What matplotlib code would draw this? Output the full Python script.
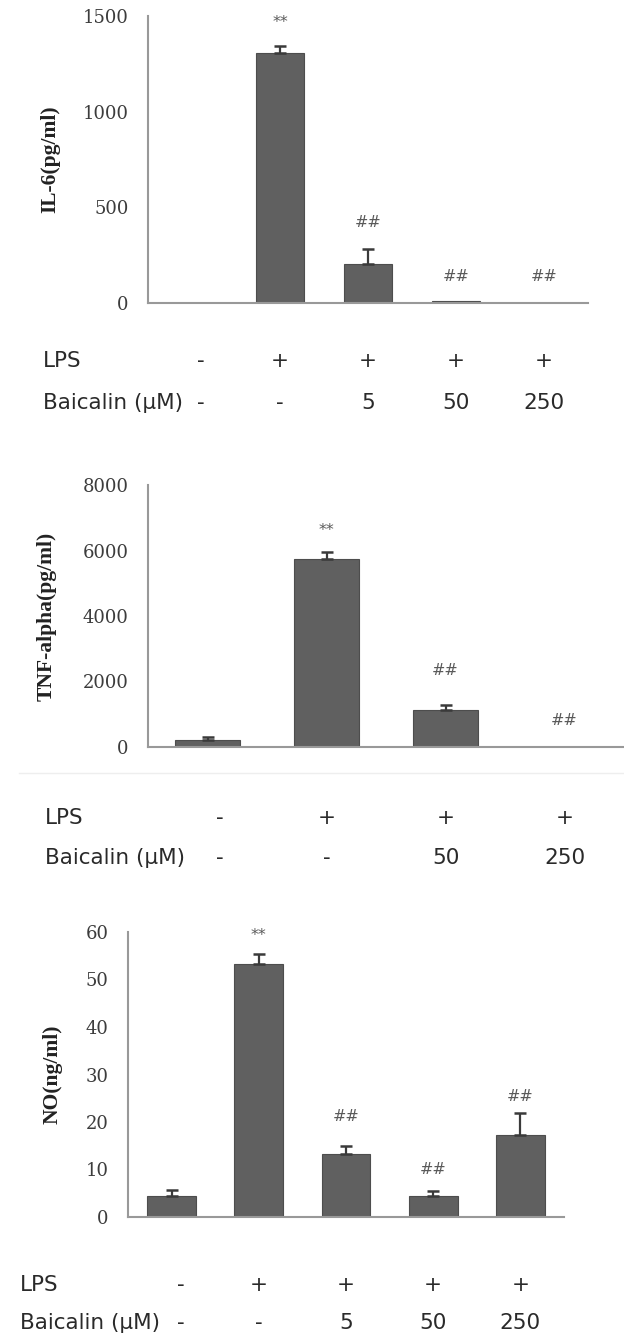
import numpy as np
import matplotlib.pyplot as plt
from matplotlib import transforms

# IL-6 panel
il6_lps = ['-', '+', '+', '+', '+']
il6_baic = ['-', '-', '5', '50', '250']
il6_mean = [0, 1308, 205, 10, 0]
il6_err = [0, 35, 78, 0, 0]
il6_mark = ['', '**', '##', '##', '##']
il6_mark_y = [0, 1465, 420, 140, 140]

# TNF-alpha panel
tnf_lps = ['-', '+', '+', '+']
tnf_baic = ['-', '-', '50', '250']
tnf_mean = [224, 5727, 1121, 0]
tnf_err = [80, 215, 170, 0]
tnf_mark = ['', '**', '##', '##']
tnf_mark_y = [0, 6624, 2344, 815]

# NO panel
no_lps = ['-', '+', '+', '+', '+']
no_baic = ['-', '-', '5', '50', '250']
no_mean = [4.35, 53.3, 13.3, 4.35, 17.2]
no_err = [1.4, 2.0, 1.7, 1.2, 4.8]
no_mark = ['', '**', '##', '##', '##']
no_mark_y = [0, 59.3, 21.1, 10.0, 25.3]

BAR = '#606060'
AXIS = '#999999'
TXT = '#2a2a2a'
SERIF = 'DejaVu Serif'
SANS = 'DejaVu Sans'

W, H = 624, 1337
fig = plt.figure(figsize=(W / 100, H / 100), dpi=100)


def px(x0, y_top, x1, y_bot):
    # pixel box -> figure rect
    return [x0 / W, 1 - y_bot / H, (x1 - x0) / W, (y_bot - y_top) / H]


def panel(rect, mean, err, marks, mark_y, ylim, yticks, ylabel, label_x,
          lps, baic, row_x, lps_y, baic_y, width=0.55):
    ax = fig.add_axes(rect)
    x = np.arange(len(mean))
    mean = np.asarray(mean, float)
    err = np.asarray(err, float)
    ax.bar(x, mean, width=width, color=BAR, edgecolor='#4d4d4d',
           linewidth=np.where(mean > 0, 0.8, 0), zorder=2)
    ok = err > 0
    ax.errorbar(x[ok], mean[ok], yerr=[np.zeros(ok.sum()), err[ok]], fmt='none',
                ecolor='#3a3a3a', elinewidth=1.6, capsize=4.3, capthick=1.8, zorder=3)
    for xi, m, my in zip(x, marks, mark_y):
        if m:
            ax.text(xi, my, m, ha='center', va='center', fontsize=11.5,
                    family=SANS, color='#5a5a5a')

    ax.set_xlim(-0.5, len(mean) - 0.5)
    ax.set_ylim(*ylim)
    ax.set_yticks(yticks)
    ax.set_xticks([])
    ax.tick_params(axis='y', length=0, pad=14, labelsize=13, labelcolor='#3c3c3c')
    for lab in ax.get_yticklabels():
        lab.set_family(SERIF)
    for s in ['top', 'right']:
        ax.spines[s].set_visible(False)
    for s in ['left', 'bottom']:
        ax.spines[s].set_color(AXIS)
        ax.spines[s].set_linewidth(1.5)

    # y label placed by hand
    bb = ax.get_position()
    fig.text(label_x / W, (bb.y0 + bb.y1) / 2, ylabel, rotation=90, ha='center',
             va='center', fontsize=15.5, family='Liberation Serif',
             fontweight='bold', color='#222222')

    # condition rows under the chart (first column sits a bit right of its bar)
    trans = transforms.blended_transform_factory(ax.transData, fig.transFigure)
    for xi, a, b in zip(x, lps, baic):
        xt = xi + (0.1 if xi == 0 else 0)
        ax.text(xt, 1 - lps_y / H, a, transform=trans, ha='center', va='center',
                fontsize=15.5, family=SANS, color=TXT)
        ax.text(xt, 1 - baic_y / H, b, transform=trans, ha='center', va='center',
                fontsize=15.5, family=SANS, color=TXT)
    fig.text(row_x / W, 1 - lps_y / H, 'LPS', ha='left', va='center', fontsize=15.5,
             family=SANS, color=TXT)
    fig.text(row_x / W, 1 - baic_y / H, 'Baicalin (\u03bcM)', ha='left', va='center',
             fontsize=15.5, family=SANS, color=TXT)
    return ax


panel(px(148, 16, 588, 303), il6_mean, il6_err, il6_mark, il6_mark_y,
      (0, 1500), [0, 500, 1000, 1500], 'IL-6(pg/ml)', 50,
      il6_lps, il6_baic, 43, 361, 403)

panel(px(148, 485, 624, 747), tnf_mean, tnf_err, tnf_mark, tnf_mark_y,
      (0, 8000), [0, 2000, 4000, 6000, 8000], 'TNF-alpha(pg/ml)', 47,
      tnf_lps, tnf_baic, 45, 818, 858)

panel(px(128, 932, 564, 1217), no_mean, no_err, no_mark, no_mark_y,
      (0, 60), [0, 10, 20, 30, 40, 50, 60], 'NO(ng/ml)', 53,
      no_lps, no_baic, 20, 1285, 1323, width=0.56)

# faint separator line under the TNF panel
fig.add_artist(plt.Line2D([0.03, 1.0], [1 - 773 / H] * 2, color='#eeeeee',
                          linewidth=1, transform=fig.transFigure))

fig.savefig('out.png', dpi=100)
